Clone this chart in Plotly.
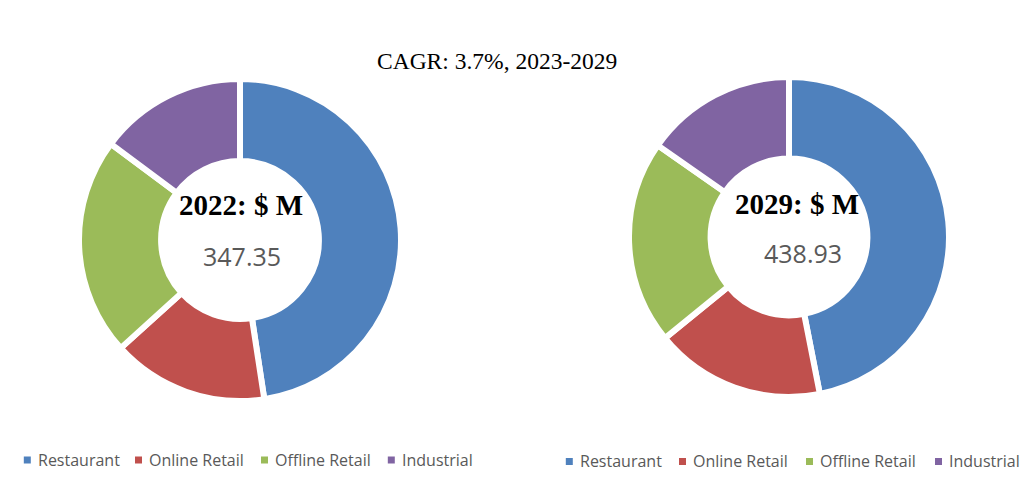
import plotly.graph_objects as go

W, H = 1028, 502

# ---- data ----
categories = ["Restaurant", "Online Retail", "Offline Retail", "Industrial"]
values_2022 = [165.3, 54.5, 76.1, 51.45]
values_2029 = [205.9, 75.5, 90.4, 67.13]
total_2022 = "347.35"
total_2029 = "438.93"
title_text = "CAGR: 3.7%, 2023-2029"

# ---- styles / layout ----
colors = ["#4F81BD", "#C0504D", "#9BBB59", "#8064A2"]
serif = "Palatino Linotype, Book Antiqua, Liberation Serif, DejaVu Serif, serif"
sans = "Open Sans, Noto Sans, sans-serif"
legend_left_x = [27.3, 138.5, 264.5, 391.3]     # key centres (px)
legend_right_x = [569.3, 682.5, 809.5, 938.5]
legend_left_y, legend_right_y = 460, 461.5


def dom(cx, cy, r):
    return dict(x=[(cx - r) / W, (cx + r) / W], y=[1 - (cy + r) / H, 1 - (cy - r) / H])


fig = go.Figure()
for vals, (cx, cy, r) in [(values_2022, (240, 240, 161)), (values_2029, (789, 237, 160))]:
    fig.add_trace(go.Pie(
        labels=categories, values=vals, hole=0.49, sort=False,
        direction="clockwise", rotation=0, textinfo="none",
        hoverinfo="label+value+percent",
        marker=dict(colors=colors, line=dict(color="white", width=6)),
        domain=dom(cx, cy, r), showlegend=False,
    ))

annotations = [
    dict(text=title_text, x=497 / W, y=1 - 61 / H, font=dict(family=serif, size=23.5, color="#000")),
    dict(text="<b>2022: $ M</b>", x=241 / W, y=1 - 205 / H, font=dict(family=serif, size=29, color="#000")),
    dict(text=total_2022, x=242 / W, y=1 - 256 / H, font=dict(family=sans, size=25, color="#595959")),
    dict(text="<b>2029: $ M</b>", x=797 / W, y=1 - 204 / H, font=dict(family=serif, size=29, color="#000")),
    dict(text=total_2029, x=803 / W, y=1 - 253 / H, font=dict(family=sans, size=25, color="#595959")),
]
for a in annotations:
    a.update(xanchor="center")

shapes = []
for xs, ly in [(legend_left_x, legend_left_y), (legend_right_x, legend_right_y)]:
    for cat, col, kx in zip(categories, colors, xs):
        shapes.append(dict(type="rect", xref="paper", yref="paper",
                           x0=(kx - 3.5) / W, x1=(kx + 3.5) / W,
                           y0=1 - (ly + 3.5) / H, y1=1 - (ly - 3.5) / H,
                           fillcolor=col, line=dict(width=0)))
        annotations.append(dict(text=cat, x=(kx + 8.5) / W, y=1 - (ly - 0.5) / H, xanchor="left",
                                font=dict(family=sans, size=16, color="#595959")))

for a in annotations:
    a.update(xref="paper", yref="paper", showarrow=False, yanchor="middle")

fig.update_layout(
    width=W, height=H, margin=dict(l=0, r=0, t=0, b=0),
    paper_bgcolor="white", plot_bgcolor="white",
    annotations=annotations, shapes=shapes,
)

fig.write_html("out.html")
